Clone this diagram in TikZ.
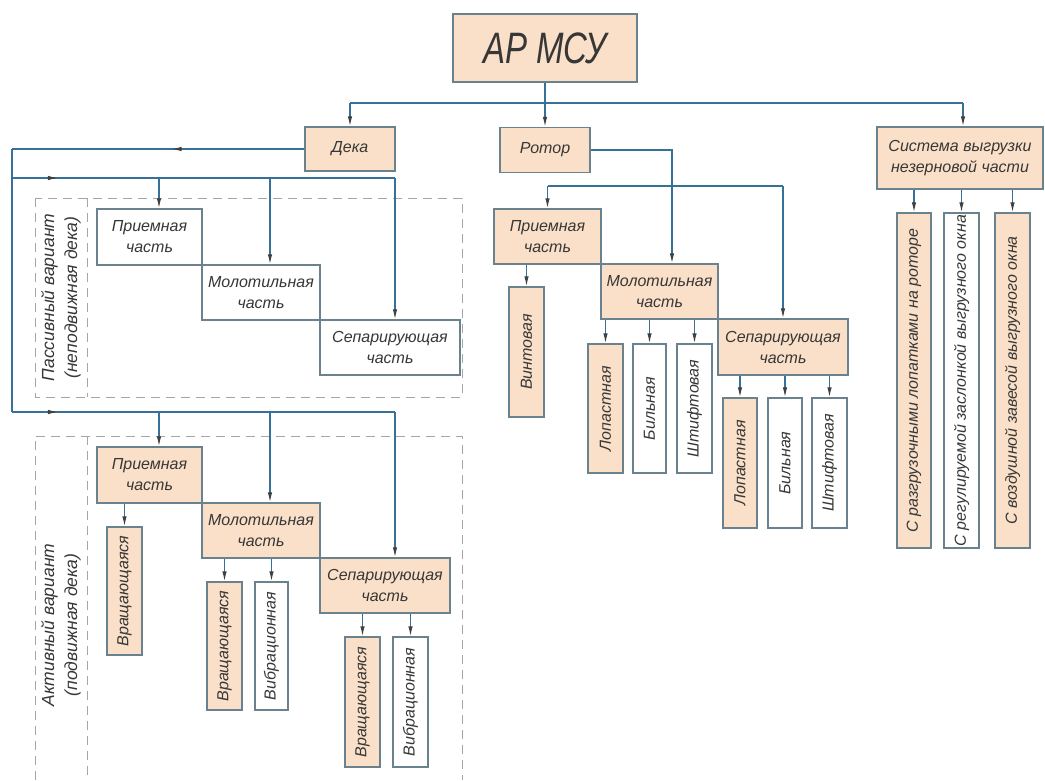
\documentclass[tikz,border=0pt]{standalone}
\usepackage{fontspec}
\newfontfamily\gost{Liberation Sans}
\newfontfamily\gostn[FakeStretch=0.75]{Liberation Sans}
\usetikzlibrary{arrows.meta,decorations.markings}
\definecolor{peach}{RGB}{250,224,200}
\definecolor{edgegray}{RGB}{105,130,142}
\definecolor{linkblue}{RGB}{55,112,152}
\definecolor{txtgray}{RGB}{55,55,55}
\definecolor{dashgray}{RGB}{165,165,165}
\newcommand{\vtxt}[1]{\rotatebox{90}{#1}}
\begin{document}
\begin{tikzpicture}[x=1pt,y=-1pt,
blk/.style={draw=edgegray,line width=1.4pt,inner sep=1pt,align=center,text=txtgray,font=\gost\itshape\fontsize{16}{21}\selectfont},
fblk/.style={blk,fill=peach},
wblk/.style={blk,fill=white},
link/.style={draw=linkblue,line width=1.2pt},
arr/.style={link,-{Latex[length=10pt,width=4.5pt,color=black!75]}},
midarr/.style={postaction={decorate},decoration={markings,mark=at position #1 with {\arrow{Latex[length=10pt,width=4.5pt,color=black!75]}}}},
frame/.style={draw=dashgray,line width=1pt,dash pattern=on 9pt off 6pt},
lbl/.style={rotate=90,align=center,text=txtgray,font=\gost\itshape\fontsize{17.5}{23}\selectfont}]
\fill[white] (0,0) rectangle (1045,780);
\useasboundingbox (0,0) rectangle (1045,780);

% dashed frames of the two deck variants
\draw[frame] (35,198) rectangle (462,397);
\draw[frame] (87,198) -- (87,397);
\draw[frame] (35,780) -- (35,436) -- (462,436) -- (462,780);
\draw[frame] (87,436) -- (87,780);
\draw (61,297.5) node[lbl] (paslbl) {Пассивный вариант\\(неподвижная дека)};
\draw (61,625) node[lbl] (actlbl) {Активный вариант\\(подвижная дека)};

% top level
\draw (545,48) node[fblk,minimum width=184pt,minimum height=68pt] (top) {\gostn\itshape\fontsize{44}{44}\selectfont АР МСУ};
\draw (350,149) node[fblk,minimum width=90pt,minimum height=44pt] (deka) {Дека};
\draw (545,150) node[fblk,minimum width=90pt,minimum height=45pt] (rotor) {Ротор};
\draw (960,158) node[fblk,minimum width=166pt,minimum height=62pt] (sys) {Система выгрузки\\незерновой части};

% passive deck
\draw (149.5,237) node[wblk,minimum width=105pt,minimum height=56pt] (p1) {Приемная\\часть};
\draw (261,292.5) node[wblk,minimum width=118pt,minimum height=55pt] (p2) {Молотильная\\часть};
\draw (390,347.5) node[wblk,minimum width=140pt,minimum height=55pt] (p3) {Сепарирующая\\часть};

% active deck
\draw (149.5,475) node[fblk,minimum width=105pt,minimum height=56pt] (a1) {Приемная\\часть};
\draw (261,530.5) node[fblk,minimum width=118pt,minimum height=55pt] (a2) {Молотильная\\часть};
\draw (385,585.5) node[fblk,minimum width=130pt,minimum height=55pt] (a3) {Сепарирующая\\часть};
\draw (124.5,591) node[fblk,minimum width=35pt,minimum height=128pt] (a1v) {\vtxt{Вращающаяся}};
\draw (224.5,646) node[fblk,minimum width=35pt,minimum height=128pt] (a2v) {\vtxt{Вращающаяся}};
\draw (271.5,646) node[wblk,minimum width=33pt,minimum height=128pt] (a2b) {\vtxt{Вибрационная}};
\draw (362.5,702) node[fblk,minimum width=35pt,minimum height=130pt] (a3v) {\vtxt{Вращающаяся}};
\draw (410.5,702) node[wblk,minimum width=35pt,minimum height=130pt] (a3b) {\vtxt{Вибрационная}};

% rotor
\draw (547.5,236.5) node[fblk,minimum width=107pt,minimum height=55pt] (r1) {Приемная\\часть};
\draw (659.5,291.5) node[fblk,minimum width=117pt,minimum height=55pt] (r2) {Молотильная\\часть};
\draw (783,347) node[fblk,minimum width=130pt,minimum height=56pt] (r3) {Сепарирующая\\часть};
\draw (526.5,352) node[fblk,minimum width=35pt,minimum height=130pt] (r1v) {\vtxt{Винтовая}};
\draw (605.5,408.5) node[fblk,minimum width=35pt,minimum height=129pt] (r2l) {\vtxt{Лопастная}};
\draw (649.5,408.5) node[wblk,minimum width=33pt,minimum height=129pt] (r2b) {\vtxt{Бильная}};
\draw (694.5,408.5) node[wblk,minimum width=35pt,minimum height=129pt] (r2s) {\vtxt{Штифтовая}};
\draw (740,463) node[fblk,minimum width=34pt,minimum height=130pt] (r3l) {\vtxt{Лопастная}};
\draw (785,463) node[wblk,minimum width=34pt,minimum height=130pt] (r3b) {\vtxt{Бильная}};
\draw (829.5,463) node[wblk,minimum width=35pt,minimum height=130pt] (r3s) {\vtxt{Штифтовая}};

% unloading system
\draw (914,380.5) node[fblk,minimum width=34pt,minimum height=335pt] (s1) {\vtxt{С разгрузочными лопатками на роторе}};
\draw (961.5,380.5) node[wblk,minimum width=35pt,minimum height=335pt] (s2) {\vtxt{С регулируемой заслонкой выгрузного окна}};
\draw (1012.5,380.5) node[fblk,minimum width=35pt,minimum height=335pt] (s3) {\vtxt{С воздушной завесой выгрузного окна}};

% connectors
\coordinate (busL) at (350,103);
\coordinate (busR) at (963,103);
\draw[link] (busL) -- (busR);
\draw[arr] (top.south) -- (rotor.north);
\draw[arr] (busL) -- (deka.north);
\draw[arr] (busR) -- (busR |- sys.north);

\coordinate (loopT) at (12,149);
\coordinate (loopB) at (12,412);
\coordinate (pbus) at (12,178);
\coordinate (pk1) at (159,178);
\coordinate (pk2) at (270,178);
\coordinate (pk3) at (395,178);
\coordinate (ak1) at (159,412);
\coordinate (ak2) at (270,412);
\coordinate (ak3) at (395,412);
\draw[link,midarr=0.454] (deka.west |- loopT) -- (loopT);
\draw[link] (loopT) -- (loopB);
\draw[link,midarr=0.12] (pbus) -- (pk3);
\draw[link,midarr=0.12] (loopB) -- (ak3);
\draw[arr] (pk1) -- (pk1 |- p1.north);
\draw[arr] (pk2) -- (pk2 |- p2.north);
\draw[arr] (pk3) -- (pk3 |- p3.north);
\draw[arr] (ak1) -- (ak1 |- a1.north);
\draw[arr] (ak2) -- (ak2 |- a2.north);
\draw[arr] (ak3) -- (ak3 |- a3.north);
\draw[arr] (a1v.north |- a1.south) -- (a1v.north);
\draw[arr] (a2v.north |- a2.south) -- (a2v.north);
\draw[arr] (a2b.north |- a2.south) -- (a2b.north);
\draw[arr] (a3v.north |- a3.south) -- (a3v.north);
\draw[arr] (a3b.north |- a3.south) -- (a3b.north);

\coordinate (rbus) at (672,186);
\draw[link] (r1.north |- rbus) -- (r3.north |- rbus);
\draw[arr] (rotor.east) -| (rbus |- r2.north);
\draw[arr] (r1.north |- rbus) -- (r1.north);
\draw[arr] (r3.north |- rbus) -- (r3.north);
\draw[arr] (r1v.north |- r1.south) -- (r1v.north);
\draw[arr] (r2l.north |- r2.south) -- (r2l.north);
\draw[arr] (r2b.north |- r2.south) -- (r2b.north);
\draw[arr] (r2s.north |- r2.south) -- (r2s.north);
\draw[arr] (r3l.north |- r3.south) -- (r3l.north);
\draw[arr] (r3b.north |- r3.south) -- (r3b.north);
\draw[arr] (r3s.north |- r3.south) -- (r3s.north);

\draw[arr] (s1.north |- sys.south) -- (s1.north);
\draw[arr] (s2.north |- sys.south) -- (s2.north);
\draw[arr] (s3.north |- sys.south) -- (s3.north);

\end{tikzpicture}
\end{document}
